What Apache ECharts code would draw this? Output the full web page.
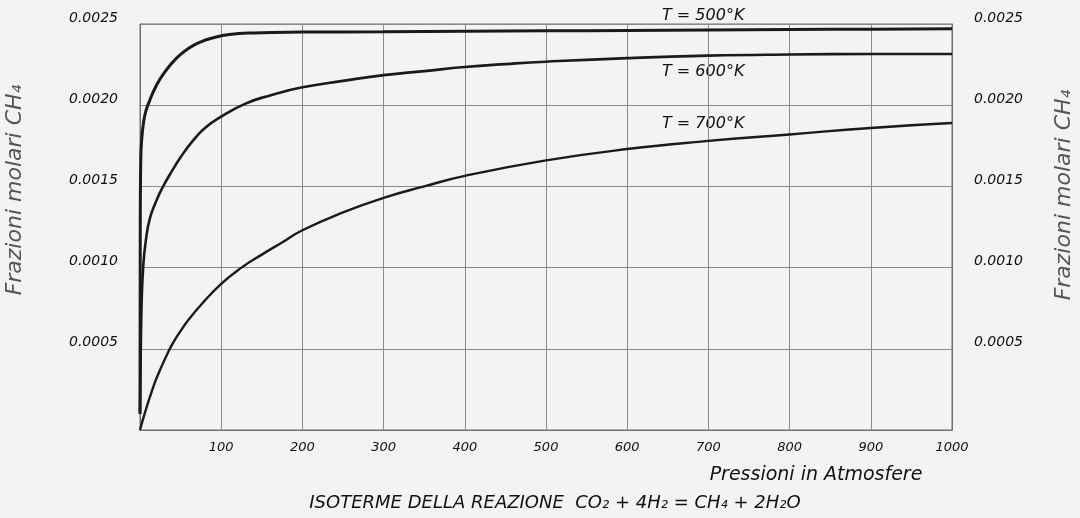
<!DOCTYPE html>
<html>
<head>
<meta charset="utf-8">
<script src="https://cdn.jsdelivr.net/npm/echarts@6/dist/echarts.min.js"></script>
<style>
html,body{margin:0;padding:0;background:#f3f3f3;}
#chart{width:1080px;height:518px;}
</style>
</head>
<body>
<div id="chart"></div>
<script>
// Pressure (atm) and CH4 molar fraction
const pressure500 = [0, 0.3, 1, 2, 4, 7, 12, 20, 30, 45, 60, 75, 90, 110, 140, 200, 300, 400, 500, 600, 700, 800, 900, 1000];
const frac500 = [0.0001, 0.0012, 0.00168, 0.00178, 0.00188, 0.00196, 0.00203, 0.00212, 0.0022, 0.00229, 0.00235, 0.00239, 0.002415, 0.002435, 0.002445, 0.00245, 0.002452, 0.002455, 0.002458, 0.00246, 0.002463, 0.002466, 0.002468, 0.00247];

const pressure600 = [0, 1, 2, 4, 7, 12, 20, 28.5, 40, 50, 65, 80, 100, 130, 160, 200, 250, 300, 350, 400, 450, 500, 600, 700, 800, 900, 1000];
const frac600 = [0.0001, 0.0005, 0.00078, 0.00101, 0.00116, 0.0013, 0.00141, 0.0015, 0.0016, 0.00168, 0.00178, 0.00186, 0.00193, 0.00201, 0.00206, 0.00211, 0.00215, 0.002185, 0.00221, 0.002235, 0.002253, 0.002268, 0.00229, 0.002305, 0.002312, 0.002315, 0.002315];

const pressure700 = [0, 5, 10, 15, 20, 30, 40, 50, 60, 75, 100, 125, 150, 175, 200, 250, 300, 350, 400, 500, 600, 700, 800, 900, 1000];
const frac700 = [0, 0.000088, 0.00017, 0.000245, 0.000315, 0.00043, 0.00053, 0.00061, 0.00068, 0.00077, 0.0009, 0.001, 0.00108, 0.001155, 0.00123, 0.00134, 0.00143, 0.0015, 0.001565, 0.00166, 0.00173, 0.00178, 0.00182, 0.00186, 0.00189];

const seriesNames = ['T = 500°K', 'T = 600°K', 'T = 700°K'];
const yAxisTitle = 'Frazioni molari CH₄';
const xAxisTitle = 'Pressioni in Atmosfere';
const chartTitle = 'ISOTERME DELLA REAZIONE  CO₂ + 4H₂ = CH₄ + 2H₂O';

const FONT = '"DejaVu Sans", sans-serif';
const pairs = (xs, ys) => xs.map((x, i) => [x, ys[i]]);

const chart = echarts.init(document.getElementById('chart'), null, {renderer: 'canvas'});

const gridLine = {show: true, lineStyle: {color: '#8a8a8a', width: 1}};
const yLabel = {
  fontFamily: FONT, fontStyle: 'italic', fontSize: 14, color: '#111',
  showMinLabel: false, margin: 22,
  formatter: v => v.toFixed(4),
  verticalAlign: 'bottom',
  lineHeight: 12
};

function lineSeries(name, xs, ys, w) {
  return {
    name: name, type: 'line', data: pairs(xs, ys),
    xAxisIndex: 0, yAxisIndex: 0,
    showSymbol: false, symbol: 'none',
    smooth: 0.5,
    lineStyle: {color: '#1a1a1a', width: w},
    silent: true, animation: false
  };
}

chart.setOption({
  backgroundColor: '#f3f3f3',
  animation: false,
  grid: {left: 140, right: 128, top: 24, bottom: 88, show: true, borderColor: '#6e6e6e', borderWidth: 1},
  xAxis: {
    type: 'value', min: 0, max: 1000, interval: 100,
    axisLine: {show: true, lineStyle: {color: '#6e6e6e', width: 1}},
    axisTick: {show: false},
    splitLine: gridLine,
    axisLabel: {fontFamily: FONT, fontStyle: 'italic', fontSize: 13, color: '#111', margin: 11, showMinLabel: false, formatter: v => String(v)}
  },
  yAxis: [
    {
      type: 'value', min: 0, max: 0.0025, interval: 0.0005, position: 'left',
      axisLine: {show: true, lineStyle: {color: '#6e6e6e'}},
      axisTick: {show: false},
      splitLine: gridLine,
      axisLabel: yLabel
    },
    {
      type: 'value', min: 0, max: 0.0025, interval: 0.0005, position: 'right',
      axisLine: {show: true, lineStyle: {color: '#6e6e6e'}},
      axisTick: {show: false},
      splitLine: {show: false},
      axisLabel: yLabel
    }
  ],
  series: [
    lineSeries(seriesNames[0], pressure500, frac500, 3),
    lineSeries(seriesNames[1], pressure600, frac600, 2.6),
    lineSeries(seriesNames[2], pressure700, frac700, 2.4)
  ],
  graphic: [
    {type: 'text', x: 662, y: 16, style: {text: seriesNames[0], font: 'italic 16px ' + FONT, fill: '#111', verticalAlign: 'middle'}},
    {type: 'text', x: 662, y: 72, style: {text: seriesNames[1], font: 'italic 16px ' + FONT, fill: '#111', verticalAlign: 'middle'}},
    {type: 'text', x: 662, y: 124, style: {text: seriesNames[2], font: 'italic 16px ' + FONT, fill: '#111', verticalAlign: 'middle'}},
    {type: 'text', x: 816, y: 475, style: {text: xAxisTitle, font: 'italic 19px ' + FONT, fill: '#111', align: 'center', verticalAlign: 'middle'}},
    {type: 'text', x: 555, y: 503, style: {text: chartTitle, font: 'italic 18px ' + FONT, fill: '#111', align: 'center', verticalAlign: 'middle'}},
    {type: 'text', x: 15, y: 190, rotation: Math.PI / 2, style: {text: yAxisTitle, font: 'italic 22px ' + FONT, fill: '#555', align: 'center', verticalAlign: 'middle'}},
    {type: 'text', x: 1064, y: 195, rotation: Math.PI / 2, style: {text: yAxisTitle, font: 'italic 22px ' + FONT, fill: '#555', align: 'center', verticalAlign: 'middle'}}
  ]
});
</script>
</body>
</html>
